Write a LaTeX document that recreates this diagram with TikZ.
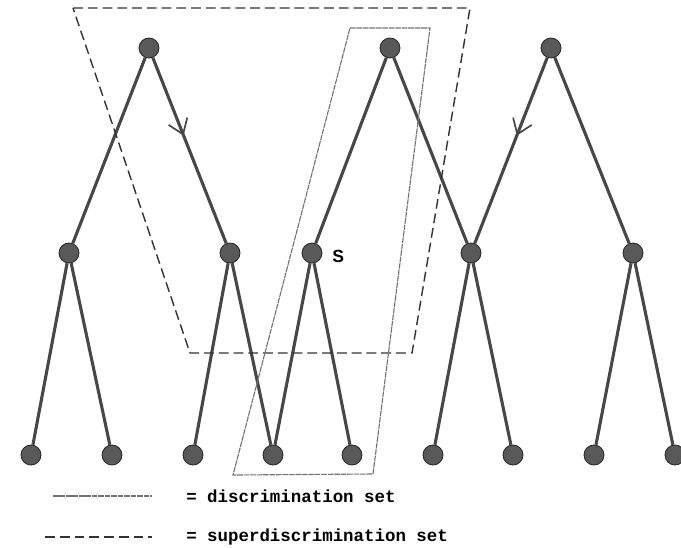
\documentclass[tikz,border=0pt]{standalone}
\usepackage{fontspec}
\setmonofont{Liberation Mono}
\setsansfont{Liberation Sans}
\usetikzlibrary{arrows.meta,decorations.markings}

\begin{document}
\begin{tikzpicture}[x=0.025cm, y=-0.025cm,
		vertex/.style={circle, draw=black!85, fill=black!65, line width=0.6pt, minimum size=0.5cm, inner sep=0pt},
		edge/.style={draw=black!72, line width=2.2pt},
		midarrow/.style={postaction={decorate, decoration={markings, mark=at position 0.42 with {\arrow[black!72, line width=1.2pt]{Straight Barb[length=3.5mm, width=5mm]}}}}},
		superset/.style={draw=black!80, line width=1pt, dash pattern=on 7pt off 3.5pt},
		discset/.style={draw=black!55, line width=0.8pt, dash pattern=on 4pt off 0.6pt},
		legend/.style={anchor=west, inner sep=0pt, font=\ttfamily\bfseries\fontsize{12.4}{14}\selectfont}]
		\useasboundingbox (0,0) rectangle (681,547);

		% roots
		\node [vertex] (t1) at (149,48) {};
		\node [vertex] (t2) at (390,48) {};
		\node [vertex] (t3) at (551,48) {};
		% middle level
		\node [vertex] (m1) at (69,253) {};
		\node [vertex] (m2) at (230,253) {};
		\node [vertex] (m3) at (312,253) {};
		\node [vertex] (m4) at (471,253) {};
		\node [vertex] (m5) at (633,253) {};
		% leaves
		\foreach \i/\x in {1/31,2/112,3/193,4/273,5/352,6/433,7/513,8/594,9/675}
			\node [vertex] (b\i) at (\x,455) {};

		\node [anchor=west, inner sep=0pt, font=\sffamily\bfseries\fontsize{12.5}{14}\selectfont] (s) at (332,256) {S};

		\draw [edge] (t1) -- (m1);
		\draw [edge, midarrow] (t1) -- (m2);
		\draw [edge] (t2) -- (m3);
		\draw [edge] (t2) -- (m4);
		\draw [edge, midarrow] (t3) -- (m4);
		\draw [edge] (t3) -- (m5);
		\draw [edge] (m1) -- (b1);
		\draw [edge] (m1) -- (b2);
		\draw [edge] (m2) -- (b3);
		\draw [edge] (m2) -- (b4);
		\draw [edge] (m3) -- (b4);
		\draw [edge] (m3) -- (b5);
		\draw [edge] (m4) -- (b6);
		\draw [edge] (m4) -- (b7);
		\draw [edge] (m5) -- (b8);
		\draw [edge] (m5) -- (b9);

		% the two sets
		\draw [superset] (73,8) -- (470,8) -- (412,353) -- (190,353) -- cycle;
		\draw [discset] (350,28) -- (430,28) -- (373,474) -- (233,475) -- cycle;

		% legend
		\coordinate (l1a) at (53,496);
		\coordinate (l1b) at (152,496);
		\coordinate (l2a) at (45,537);
		\coordinate (l2b) at (152,537);
		\draw [discset] (l1a) -- (l1b);
		\draw [superset] (l2a) -- (l2b);
		\node [legend] (d) at (186,496) {= discrimination set};
		\node [legend] (sd) at (186,537) {= superdiscrimination set};
\end{tikzpicture}
\end{document}
